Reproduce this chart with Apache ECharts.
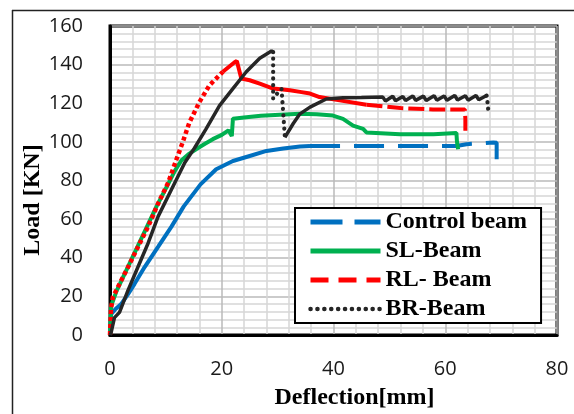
<!DOCTYPE html>
<html><head><meta charset="utf-8">
<script src="https://cdn.jsdelivr.net/npm/echarts@6/dist/echarts.min.js"></script>
<style>html,body{margin:0;padding:0;background:#fff}#c{width:574px;height:414px}</style>
</head><body><div id="c"></div>
<script>
// ---- data (deflection mm, load kN) ----
const xRange = {min: 0, max: 80, step: 20};
const yRange = {min: 0, max: 160, step: 20};
const seriesNames = ['Control beam', 'SL-Beam', 'RL- Beam', 'BR-Beam'];

const controlBeam = [[0,0],[0.2,10.8],[1,13.5],[2,16],[3.2,21],[4.4,26.5],[6.2,35.2],[8.6,45.6],[11,56.1],[13.2,66.6],[16.2,78],[19,85.8],[22,90.1],[25,92.7],[28,95.3],[31,96.6],[34,97.6],[35.8,97.9],[62,97.9],[63.8,98.8],[66,99.2],[68.6,99.7],[69.2,99.5],[69.2,95],[69.2,91]];

const slBeam = [[0,0],[0.2,15],[1.2,23],[3,34],[4.8,45],[6.6,56],[8.4,67],[10.2,77],[11.6,85],[12.8,90.5],[14,93.5],[15.4,96.2],[17,99],[18.4,101.4],[20,103.6],[21.2,106],[21.8,103],[22,112],[24.4,112.8],[27,113.5],[30.4,114],[34,114.5],[37,114.3],[39.9,113.6],[41.7,111.9],[43.5,108.4],[45.3,106.7],[45.9,104.9],[51.9,104],[57.9,104],[62,104.6],[62.1,100],[62.3,96.2]];

const rlBeam = [[0,0],[0.2,14],[0.5,19.5],[1.4,24.7],[3.2,35],[5,45.6],[6.8,56],[8.6,68],[10.4,78.8],[11.9,91],[13,99.7],[14.2,110],[16,120.6],[17.8,129.3],[20.2,136.3],[22.3,141.2],[22.7,141.9],[23.5,132.8],[25,131.9],[26.8,130.2],[29.2,127.6],[32.2,126.7],[34,125.9],[35.8,125],[37.5,123.2],[41.1,121.5],[45.9,119.2],[52,117.5],[57.8,116.8],[63.5,116.8],[63.6,112],[63.6,105.8]];

const brBeam = [[0,0],[0.2,1.2],[0.8,9],[1.7,11.7],[3.2,23],[5,35.2],[6.8,47.4],[8.6,61.3],[11,75.3],[13.4,89.3],[15.1,96.7],[17.2,106.7],[19.6,118.8],[22,127.6],[24.4,136.3],[26.8,143.3],[28.9,147.1],[29.2,146.5],[29.2,122.4],[29.9,125],[30.7,127.4],[31,115],[31.3,102.3],[32.8,109.5],[34,114.5],[35.8,118],[38.7,122.2],[41.7,122.8],[45,123],[48.8,123.3],[49.3,121.2],[50.6,123.6],[51.1,121.3],[52.4,123.5],[52.9,121.4],[54.2,123.8],[54.7,121.5],[56.1,123.7],[56.6,121.4],[58,123.9],[58.5,121.6],[59.8,123.8],[60.3,121.5],[61.7,124],[62.2,121.7],[63.6,123.9],[64.1,121.6],[65.5,124],[66,121.8],[67.4,124],[67.6,119.7],[67.7,116.2]];

// ---- styling ----
const C = {blue:'#0070c0', green:'#00b050', red:'#ff0000', black:'#262626'};
const beams = [
  {name: seriesNames[0], data: controlBeam, color: C.blue, parts: [
    [0, 17, {type:'solid', width:4}],
    [17, 24, {type:[30,14], width:4}]]},
  {name: seriesNames[1], data: slBeam, color: C.green, parts: [
    [0, 32, {type:'solid', width:4}]]},
  {name: seriesNames[2], data: rlBeam, color: C.red, parts: [
    [0, 14, {type:[4,3], width:4.5}],
    [14, 26, {type:'solid', width:4}],
    [26, 31, {type:[16,5], width:4}]]},
  {name: seriesNames[3], data: brBeam, color: C.black, parts: [
    [0, 17, {type:'solid', width:3.5}],
    [17, 22, {type:[0.1,6.5], cap:'round', width:4.2}],
    [22, 49, {type:'solid', width:3.5}],
    [49, 51, {type:[0.1,6.5], cap:'round', width:4.2}]]}
];
const legendStyles = [
  {type:[32,12], width:5},
  {type:'solid', width:5},
  {type:[18,10], width:5},
  {type:[0.1,6.8], cap:'round', width:4.5}
];

const series = [];
beams.forEach(b => {
  b.parts.forEach(p => {
    series.push({
      type:'line', name:b.name, data:b.data.slice(p[0], p[1]+1),
      symbol:'none', showSymbol:false, smooth:false, silent:true,
      color:b.color,
      lineStyle:Object.assign({color:b.color}, p[2])
    });
  });
});

const labelFont = {fontFamily:'Open Sans', fontSize:20, color:'#1a1a1a'};
const serifBold = {fontFamily:'Liberation Serif', fontWeight:'bold', fontSize:24};

const chart = echarts.init(document.getElementById('c'), null, {renderer:'canvas'});
chart.setOption({
  animation:false,
  backgroundColor:'#fff',
  grid:{left:110, right:17, top:26, bottom:79, show:true, borderColor:'#000', borderWidth:3, backgroundColor:'transparent'},
  xAxis:{type:'value', min:xRange.min, max:xRange.max, interval:xRange.step,
    axisLine:{show:true, onZero:false, lineStyle:{color:'#000', width:3}},
    axisTick:{show:false},
    axisLabel:Object.assign({margin:24}, labelFont),
    splitLine:{show:true, lineStyle:{color:'#bababa', width:1.5}},
    minorTick:{show:false, splitNumber:5},
    minorSplitLine:{show:true, lineStyle:{color:'#d6d6d6', width:1.5}}
  },
  yAxis:{type:'value', min:yRange.min, max:yRange.max, interval:yRange.step,
    axisLine:{show:true, onZero:false, lineStyle:{color:'#000', width:3}},
    axisTick:{show:false},
    axisLabel:Object.assign({margin:27}, labelFont),
    splitLine:{show:true, lineStyle:{color:'#bababa', width:1.5}},
    minorTick:{show:false, splitNumber:5},
    minorSplitLine:{show:true, lineStyle:{color:'#d6d6d6', width:1.5}}
  },
  legend:{
    orient:'vertical', left:295, top:208, itemWidth:70, itemHeight:14, itemGap:5,
    padding:[2,14,2,13], borderColor:'#000', borderWidth:2, backgroundColor:'#fff',
    selectedMode:false,
    itemStyle:{opacity:0},
    textStyle:Object.assign({color:'#000', lineHeight:24}, serifBold),
    data: seriesNames.map((n,i) => ({name:n, lineStyle:legendStyles[i], itemStyle:{opacity:0}}))
  },
  graphic:[
    {type:'line', shape:{x1:12, y1:10.5, x2:574, y2:10.5}, style:{stroke:'#222', lineWidth:1.5}, silent:true},
    {type:'line', shape:{x1:12.5, y1:10, x2:12.5, y2:414}, style:{stroke:'#222', lineWidth:1.5}, silent:true},
    {type:'text', x:33, y:200, rotation:Math.PI/2, silent:true,
      style:Object.assign({text:'Load [KN]', fill:'#000', textAlign:'center', textVerticalAlign:'middle', align:'center', verticalAlign:'middle'}, serifBold)},
    {type:'text', x:354.5, y:398, silent:true,
      style:Object.assign({text:'Deflection[mm]', fill:'#000', textAlign:'center', textVerticalAlign:'middle', align:'center', verticalAlign:'middle'}, serifBold)}
  ],
  series: series
});
</script>
</body></html>
